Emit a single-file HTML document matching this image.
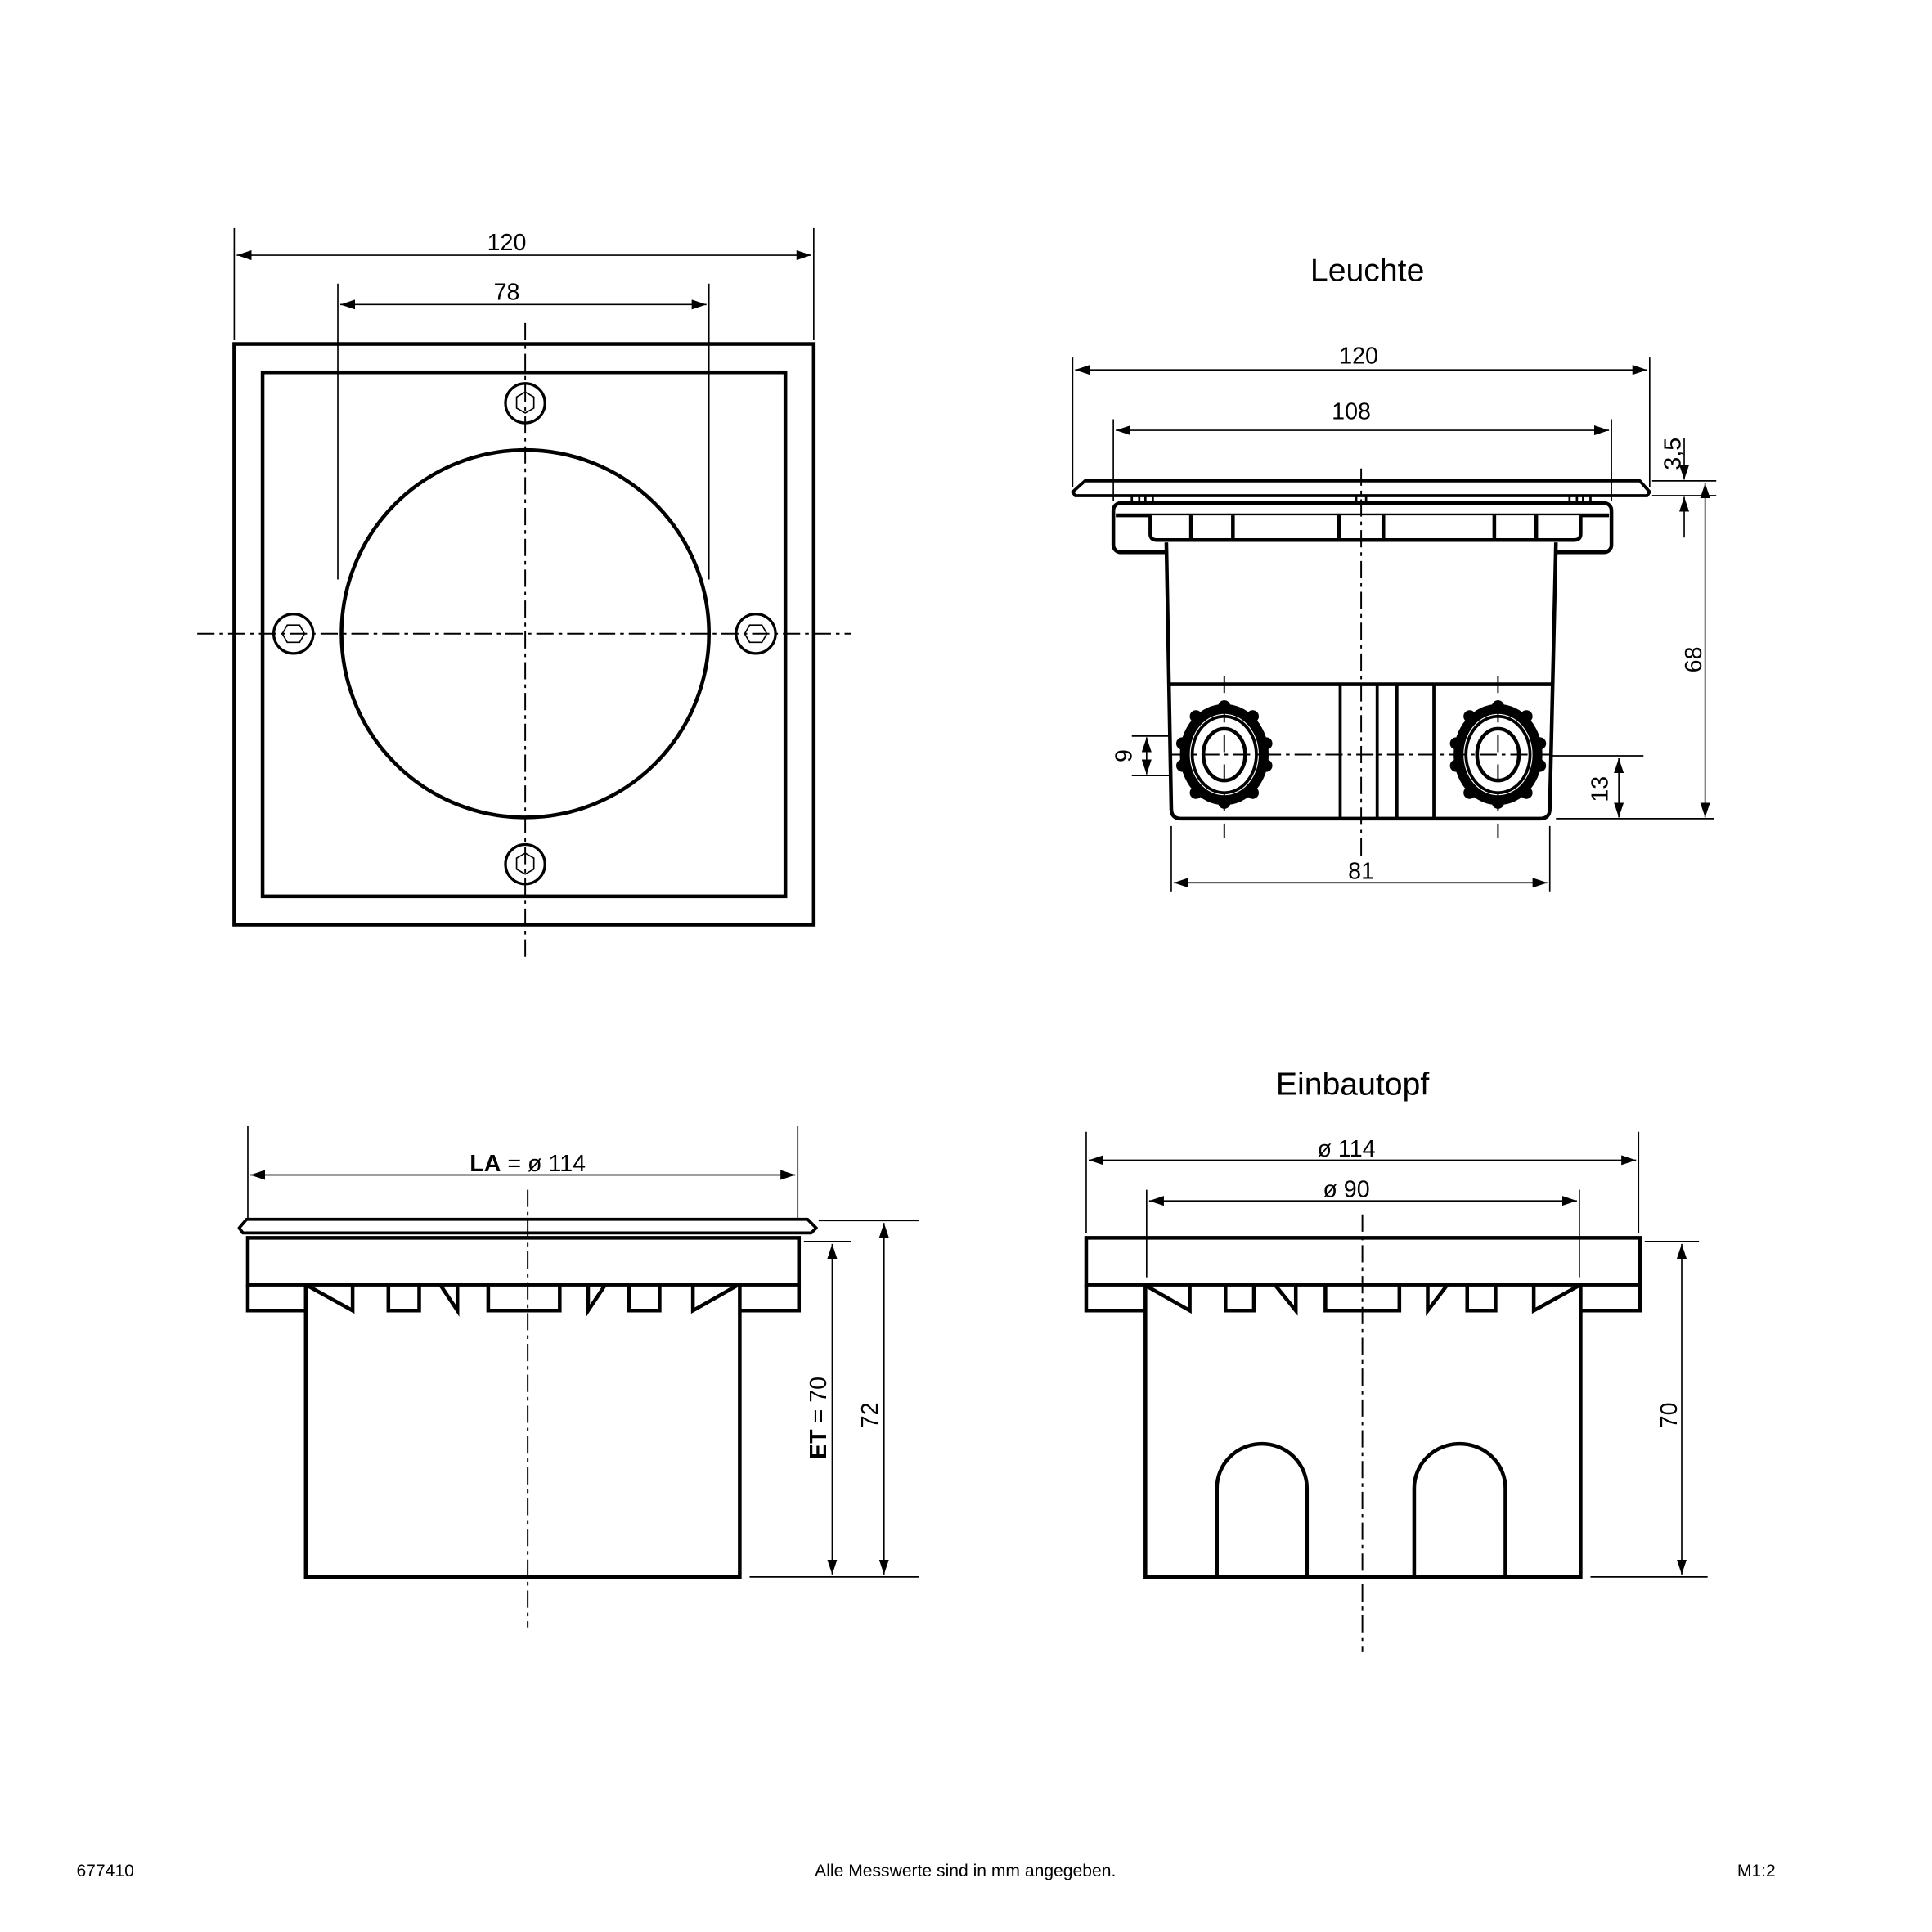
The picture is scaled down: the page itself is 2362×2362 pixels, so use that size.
<!DOCTYPE html>
<html><head><meta charset="utf-8"><style>
html,body{margin:0;padding:0;background:#fff}
svg{display:block}
text{font-family:"Liberation Sans",sans-serif;fill:#000}
</style></head><body>
<svg width="2362" height="2362" viewBox="0 0 1567 1567" xmlns="http://www.w3.org/2000/svg">
<defs>
<marker id="a" viewBox="0 0 12 8" refX="12" refY="4" markerWidth="12" markerHeight="8" markerUnits="userSpaceOnUse" orient="auto-start-reverse"><path d="M0,0 L12,4 L0,8 z" fill="#000"/></marker>
</defs>
<g fill="none" stroke="#000">
<!-- ===== TOP LEFT ===== -->
<g stroke-width="1.1">
<line x1="190" y1="185" x2="190" y2="276"/><line x1="660" y1="185" x2="660" y2="276"/>
<line x1="192" y1="207" x2="658" y2="207" marker-start="url(#a)" marker-end="url(#a)"/>
<line x1="274" y1="230" x2="274" y2="470"/><line x1="575" y1="230" x2="575" y2="470"/>
<line x1="276" y1="247" x2="573" y2="247" marker-start="url(#a)" marker-end="url(#a)"/>
</g>
<rect x="190" y="279" width="470" height="471" stroke-width="3"/>
<rect x="213" y="302" width="424" height="425" stroke-width="3"/>
<ellipse cx="426" cy="514" rx="149" ry="149" stroke-width="3"/>
<g stroke-width="1.3" stroke-dasharray="14,4,3,4">
<line x1="426" y1="262" x2="426" y2="780"/>
<line x1="160" y1="514" x2="690" y2="514"/>
</g>
<g stroke-width="2.2">
<circle cx="426" cy="327" r="16"/><circle cx="238" cy="514" r="16"/><circle cx="613" cy="514" r="16"/><circle cx="426" cy="701" r="16"/>
</g>
<g stroke-width="1.1">
<polygon points="426,318 433,322 433,331 426,335 419,331 419,322"/>
<polygon points="229,514 233,507 243,507 247,514 243,521 233,521"/>
<polygon points="604,514 608,507 618,507 622,514 618,521 608,521"/>
<polygon points="426,692 433,696 433,705 426,709 419,705 419,696"/>
</g>

<!-- ===== TOP RIGHT (Leuchte) ===== -->
<g stroke-width="1.1">
<line x1="870" y1="290" x2="870" y2="395"/><line x1="1338" y1="290" x2="1338" y2="395"/>
<line x1="872" y1="300" x2="1336" y2="300" marker-start="url(#a)" marker-end="url(#a)"/>
<line x1="903" y1="340" x2="903" y2="406"/><line x1="1307" y1="340" x2="1307" y2="406"/>
<line x1="905" y1="349" x2="1305" y2="349" marker-start="url(#a)" marker-end="url(#a)"/>
<line x1="1340" y1="390" x2="1392" y2="390"/><line x1="1340" y1="402" x2="1392" y2="402"/>
<line x1="1366" y1="355" x2="1366" y2="389" marker-end="url(#a)"/>
<line x1="1366" y1="436" x2="1366" y2="403" marker-end="url(#a)"/>
<line x1="1383" y1="392" x2="1383" y2="663" marker-start="url(#a)" marker-end="url(#a)"/>
<line x1="1262" y1="664" x2="1390" y2="664"/>
<line x1="1258" y1="613" x2="1333" y2="613"/>
<line x1="1313" y1="615" x2="1313" y2="663" marker-start="url(#a)" marker-end="url(#a)"/>
<line x1="918" y1="597" x2="978" y2="597"/><line x1="918" y1="629" x2="978" y2="629"/>
<line x1="930" y1="598" x2="930" y2="628" marker-start="url(#a)" marker-end="url(#a)"/>
<line x1="950" y1="670" x2="950" y2="723"/><line x1="1257" y1="670" x2="1257" y2="723"/>
<line x1="952" y1="716" x2="1255" y2="716" marker-start="url(#a)" marker-end="url(#a)"/>
</g>
<path d="M880,390 L1330,390 L1338,399 L1336,402 L872,402 L870,399 Z" stroke-width="2.5" stroke-linejoin="round"/>
<g stroke-width="1.8">
<rect x="918" y="402" width="6" height="6"/><rect x="929" y="402" width="6" height="6"/>
<rect x="1100" y="402" width="8" height="6"/>
<rect x="1273" y="402" width="6" height="6"/><rect x="1284" y="402" width="6" height="6"/>
</g>
<rect x="903" y="408" width="404" height="40" rx="6" stroke-width="3"/>
<line x1="905" y1="418" x2="1305" y2="418" stroke-width="3"/>
<path d="M933,418 L933,433 Q933,438 938,438 L1277,438 Q1282,438 1282,433 L1282,418" stroke-width="3" fill="#fff"/>
<g stroke-width="3">
<line x1="966" y1="418" x2="966" y2="438"/><line x1="1000" y1="418" x2="1000" y2="438"/>
<line x1="1086" y1="418" x2="1086" y2="438"/><line x1="1122" y1="418" x2="1122" y2="438"/>
<line x1="1212" y1="418" x2="1212" y2="438"/><line x1="1246" y1="418" x2="1246" y2="438"/>
</g>
<path d="M946,440 L950,656 Q950,664 958,664 L1249,664 Q1257,664 1257,656 L1262,440" stroke-width="3" fill="#fff"/>
<line x1="948" y1="555" x2="1260" y2="555" stroke-width="3"/>
<g stroke-width="2.5">
<line x1="1087" y1="555" x2="1087" y2="664"/><line x1="1117" y1="555" x2="1117" y2="664"/>
<line x1="1133" y1="555" x2="1133" y2="664"/><line x1="1163" y1="555" x2="1163" y2="664"/>
</g>
<g id="gl">
<ellipse cx="993" cy="612" rx="32" ry="37" stroke-width="8"/>
<g fill="#000" stroke="none">
<circle cx="993" cy="573" r="5"/><circle cx="993" cy="651" r="5"/>
<circle cx="1016" cy="581" r="5"/><circle cx="970" cy="581" r="5"/>
<circle cx="1016" cy="643" r="5"/><circle cx="970" cy="643" r="5"/>
<circle cx="1027" cy="603" r="5"/><circle cx="959" cy="603" r="5"/>
<circle cx="1027" cy="621" r="5"/><circle cx="959" cy="621" r="5"/>
</g>
<ellipse cx="993" cy="612" rx="26" ry="31" stroke-width="2.5"/>
<ellipse cx="993" cy="612" rx="17" ry="21" stroke-width="3"/>
</g>
<use href="#gl" x="222"/>
<g stroke-width="1.3" stroke-dasharray="14,4,3,4">
<line x1="1104" y1="380" x2="1104" y2="695"/>
<line x1="950" y1="612" x2="1258" y2="612"/>
</g>
<g stroke-width="1.3" stroke-dasharray="14,10">
<line x1="993" y1="548" x2="993" y2="680"/><line x1="1215" y1="548" x2="1215" y2="680"/>
</g>

<!-- ===== BOTTOM LEFT ===== -->
<g stroke-width="1.1">
<line x1="201" y1="913" x2="201" y2="988"/><line x1="647" y1="913" x2="647" y2="988"/>
<line x1="203" y1="953" x2="645" y2="953" marker-start="url(#a)" marker-end="url(#a)"/>
<line x1="664" y1="990" x2="745" y2="990"/><line x1="652" y1="1007" x2="690" y2="1007"/>
<line x1="608" y1="1279" x2="745" y2="1279"/>
<line x1="675" y1="1009" x2="675" y2="1277" marker-start="url(#a)" marker-end="url(#a)"/>
<line x1="717" y1="992" x2="717" y2="1277" marker-start="url(#a)" marker-end="url(#a)"/>
</g>
<path d="M200,989 L655,989 L662,996 L658,1000 L197,1000 L194,996 Z" stroke-width="2.5" stroke-linejoin="round"/>
<rect x="201" y="1004" width="447" height="38" stroke-width="3"/>
<path d="M201,1042 L201,1063 L248,1063 M248,1042 L286,1063 L286,1042 M315,1042 L315,1063 L340,1063 L340,1042 M357,1042 L371,1063 L371,1042 M396,1042 L396,1063 L454,1063 L454,1042 M491,1042 L477,1063 L477,1042 M510,1042 L510,1063 L535,1063 L535,1042 M599,1042 L562,1063 L562,1042 M599,1063 L648,1063 L648,1042" stroke-width="3"/>
<path d="M248,1042 L248,1279 L600,1279 L600,1042" stroke-width="3"/>
<line x1="428" y1="965" x2="428" y2="1320" stroke-width="1.3" stroke-dasharray="14,4,3,4"/>

<!-- ===== BOTTOM RIGHT (Einbautopf) ===== -->
<g stroke-width="1.1">
<line x1="881" y1="918" x2="881" y2="1000"/><line x1="1329" y1="918" x2="1329" y2="1000"/>
<line x1="883" y1="941" x2="1327" y2="941" marker-start="url(#a)" marker-end="url(#a)"/>
<line x1="930" y1="965" x2="930" y2="1036"/><line x1="1281" y1="965" x2="1281" y2="1036"/>
<line x1="932" y1="974" x2="1279" y2="974" marker-start="url(#a)" marker-end="url(#a)"/>
<line x1="1334" y1="1007" x2="1378" y2="1007"/><line x1="1290" y1="1279" x2="1385" y2="1279"/>
<line x1="1364" y1="1009" x2="1364" y2="1277" marker-start="url(#a)" marker-end="url(#a)"/>
</g>
<rect x="881" y="1004" width="449" height="38" stroke-width="3"/>
<path d="M881,1042 L881,1063 L928,1063 M928,1042 L965,1063 L965,1042 M994,1042 L994,1063 L1017,1063 L1017,1042 M1034,1042 L1051,1063 L1051,1042 M1075,1042 L1075,1063 L1135,1063 L1135,1042 M1174,1042 L1158,1063 L1158,1042 M1190,1042 L1190,1063 L1213,1063 L1213,1042 M1282,1042 L1244,1063 L1244,1042 M1282,1063 L1330,1063 L1330,1042" stroke-width="3"/>
<path d="M929,1042 L929,1279 L1282,1279 L1282,1042" stroke-width="3"/>
<path d="M987,1279 L987,1207 A36.5,36 0 0 1 1060,1207 L1060,1279" stroke-width="3"/>
<path d="M1147,1279 L1147,1207 A37,36 0 0 1 1221,1207 L1221,1279" stroke-width="3"/>
<line x1="1105" y1="985" x2="1105" y2="1340" stroke-width="1.3" stroke-dasharray="14,4,3,4"/>
</g>

<!-- TEXT -->
<g font-size="19" text-anchor="middle">
<text x="411" y="203">120</text>
<text x="411" y="243">78</text>
<text x="1102" y="295">120</text>
<text x="1096" y="340">108</text>
<text x="1104" y="713">81</text>
<text x="428" y="950"><tspan font-weight="bold">LA</tspan> = ø 114</text>
<text x="1092" y="938">ø 114</text>
<text x="1092" y="971">ø 90</text>
<text transform="translate(918,613) rotate(-90)">9</text>
<text transform="translate(1304,640) rotate(-90)">13</text>
<text transform="translate(1380,535) rotate(-90)">68</text>
<text transform="translate(1363,368) rotate(-90)">3,5</text>
<text transform="translate(712,1148) rotate(-90)">72</text>
<text transform="translate(670,1150) rotate(-90)"><tspan font-weight="bold">ET</tspan> = 70</text>
<text transform="translate(1360,1148) rotate(-90)">70</text>
</g>
<text x="1109" y="228" font-size="26" text-anchor="middle">Leuchte</text>
<text x="1097" y="888" font-size="26" text-anchor="middle">Einbautopf</text>
<g font-size="14">
<text x="62" y="1522">677410</text>
<text x="783" y="1522" text-anchor="middle">Alle Messwerte sind in mm angegeben.</text>
<text x="1409" y="1522">M1:2</text>
</g>
</svg>
</body></html>
